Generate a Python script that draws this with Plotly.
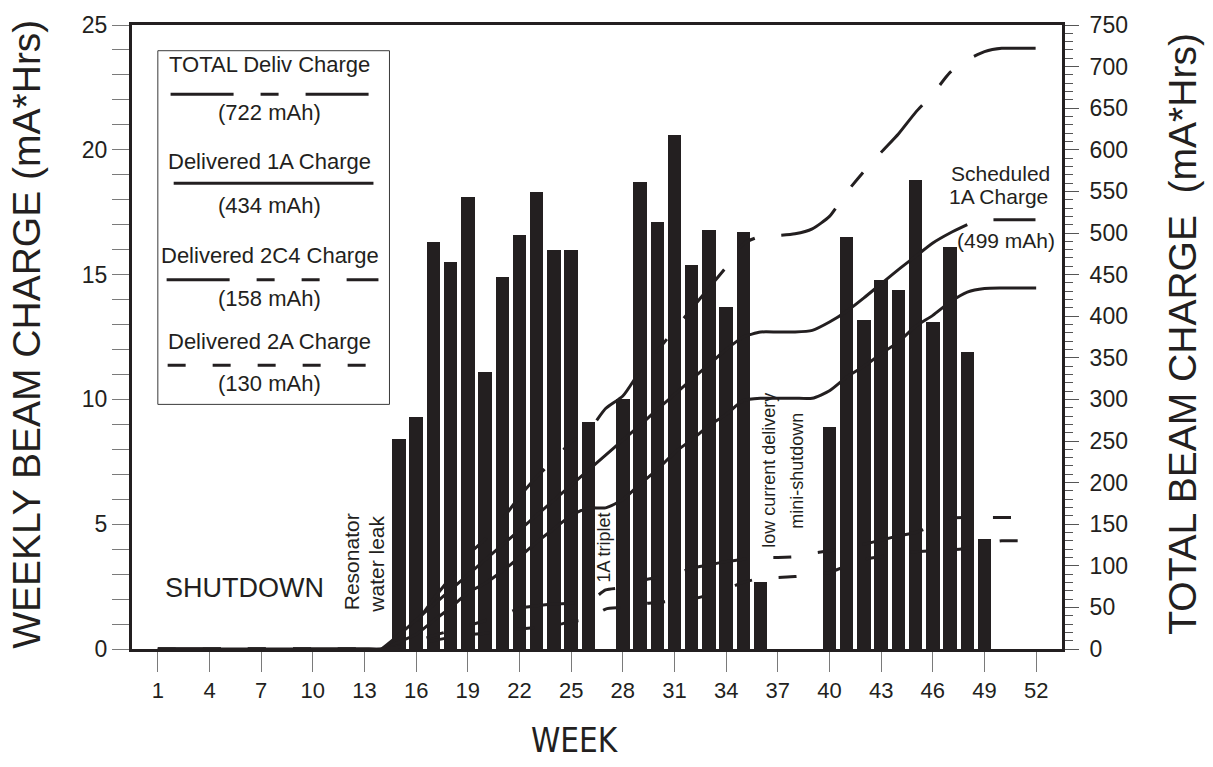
import plotly.graph_objects as go

INK = "#231f20"
TICK = "#7a7a7a"
FONT = "Liberation Sans, Arial, Helvetica, sans-serif"
NARROW = "Liberation Sans Narrow, Arial Narrow, DejaVu Sans Condensed, Liberation Sans, sans-serif"

# ---- data -------------------------------------------------------------
weeks = list(range(1, 53))
tick_weeks = list(range(1, 53, 3))

# weekly delivered 1A beam charge (mA*h), left axis
bar_weeks = [15, 16, 17, 18, 19, 20, 21, 22, 23, 24, 25, 26,
             28, 29, 30, 31, 32, 33, 34, 35, 36,
             40, 41, 42, 43, 44, 45, 46, 47, 48, 49]
weekly_1a = [8.4, 9.3, 16.3, 15.5, 18.1, 11.1, 14.9, 16.6, 18.3, 16.0, 16.0, 9.1,
             10.0, 18.7, 17.1, 20.6, 15.4, 16.8, 13.7, 16.7, 2.7,
             8.9, 16.5, 13.2, 14.8, 14.4, 18.8, 13.1, 16.1, 11.9, 4.4]

# running totals (mA*h), right axis, weeks 1..52
cum_total = [0] * 14 + [14, 32, 60, 86, 113, 132, 156, 183, 207, 227, 249, 262,
                        289, 304, 334, 358, 384, 409, 434, 459, 487, 496,
                        497, 499, 505, 520, 549, 574, 597, 619, 645, 667,
                        693, 708, 718, 722, 722, 722]
cum_1a = [0] * 14 + [8.4, 17.7, 34.1, 49.6, 67.7, 78.8, 93.7, 110.3, 128.5, 144.5, 160.5, 169.6,
                     169.6, 179.6, 198.3, 215.5, 236.1, 251.5, 268.3, 282.0, 298.7, 301.4,
                     301.4, 301.4, 301.4, 310.3, 326.8, 339.9, 354.8, 369.1, 387.9, 401.0,
                     417.1, 429.0, 433.4, 434, 434, 434]
cum_2c4 = [0] * 14 + [4, 9, 16, 22, 28, 34, 40, 49, 52, 54, 55, 56,
                      71, 74, 82, 86, 90, 97, 101, 105, 108, 110,
                      110, 111, 115, 118, 122, 126, 131, 136, 140, 148,
                      157, 158, 158, 158, 158, 158]
cum_2a = [0] * 14 + [2, 5, 10, 14, 17, 19, 22, 24, 26, 28, 33, 36,
                     48, 50, 54, 56, 58, 60, 65, 72, 80, 85,
                     86, 87, 89, 92, 100, 108, 111, 114, 117, 118,
                     119, 121, 127, 130, 130, 130]

# scheduled 1A charge, weeks 14..48
sched_weeks = list(range(14, 49))
sched_1a = [0, 17, 35, 53, 71, 89, 107, 125, 143, 161, 179, 197, 215,
            233, 251, 269, 288, 306, 324, 342, 360, 375, 381,
            381, 381, 383, 393, 406, 422, 439, 456, 472, 488, 500, 510]

# legend key entries: (title, total label, dash)
DASH_TOTAL = "63px,27px,18px,27px"
DASH_2C4 = "63px,27px,18px,27px,18px,27px"
DASH_2A = "18px,27px"
key_rows = [
    ("TOTAL Deliv Charge", "(722 mAh)", DASH_TOTAL),
    ("Delivered 1A Charge", "(434 mAh)", "solid"),
    ("Delivered 2C4 Charge", "(158 mAh)", DASH_2C4),
    ("Delivered 2A Charge", "(130 mAh)", DASH_2A),
]

# ---- figure -----------------------------------------------------------
fig = go.Figure()

fig.add_trace(go.Bar(x=bar_weeks, y=weekly_1a, width=0.78, yaxis="y",
                     marker=dict(color=INK, line=dict(width=0)),
                     showlegend=False, hoverinfo="x+y"))

for series, dash in [(cum_total, DASH_TOTAL), (cum_1a, "solid"),
                     (cum_2c4, DASH_2C4), (cum_2a, DASH_2A)]:
    fig.add_trace(go.Scatter(x=weeks, y=series, mode="lines", yaxis="y2",
                             line=dict(color=INK, width=3, dash=dash,
                                       shape="spline", smoothing=0.6),
                             showlegend=False))

fig.add_trace(go.Scatter(x=sched_weeks, y=sched_1a, mode="lines", yaxis="y2",
                         line=dict(color=INK, width=3, shape="spline", smoothing=0.6),
                         showlegend=False))

shapes = []
annotations = []


def note(x, y, text, size=22, xref="x", yref="y", **kw):
    kw.setdefault("xanchor", "center")
    kw.setdefault("yanchor", "middle")
    kw.setdefault("family", FONT)
    family = kw.pop("family")
    return dict(x=x, y=y, xref=xref, yref=yref, text=text, showarrow=False,
                font=dict(size=size, color=INK, family=family), **kw)


# framed key in the upper left
shapes.append(dict(type="rect", xref="x", yref="y", x0=1.0, x1=14.45, y0=9.8, y1=23.97,
                   line=dict(color="#3a3a3a", width=1), fillcolor="white", layer="above"))
key_title_y = [23.4, 19.55, 15.75, 12.3]
key_line_y = [22.23, 18.66, 14.79, 11.37]
key_value_y = [21.48, 17.76, 14.04, 10.63]
key_line_x = [(1.74, 13.29), (1.92, 13.52), (1.51, 13.81), (1.57, 13.17)]
for (title, value, dash), ty, ly, vy, (lx0, lx1) in zip(key_rows, key_title_y, key_line_y,
                                                         key_value_y, key_line_x):
    annotations.append(note(7.5, ty, title, 22))
    annotations.append(note(7.5, vy, value, 22))
    shapes.append(dict(type="line", xref="x", yref="y", x0=lx0, x1=lx1, y0=ly, y1=ly,
                       line=dict(color=INK, width=3, dash=dash), layer="above"))

# scheduled charge key on the right
shapes.append(dict(type="line", xref="x", yref="y2", x0=49.52, x1=51.96, y0=516, y1=516,
                   line=dict(color=INK, width=3)))
annotations += [
    note(52.93, 571, "Scheduled", 21, yref="y2", xanchor="right"),
    note(52.8, 544, "1A Charge", 21, yref="y2", xanchor="right"),
    note(53.2, 491, "(499 mAh)", 21, yref="y2", xanchor="right"),
]

# event notes
annotations += [
    note(6.04, 2.46, "SHUTDOWN", 27),
    note(12.25, 3.5, "Resonator", 21, textangle=-90),
    note(13.7, 3.4, "water leak", 21, textangle=-90),
    note(26.93, 4.08, "1A triplet", 18, textangle=-90),
    note(36.44, 7.15, "low current delivery", 18, textangle=-90),
    note(38.07, 7.15, "mini-shutdown", 18, textangle=-90),
]

# axis titles
annotations += [
    note(-0.113, 0.505, "WEEKLY BEAM CHARGE (mA*Hrs)", 39, xref="paper", yref="paper",
         textangle=-90),
    note(1.130, 0.505, "TOTAL BEAM CHARGE\u00a0\u00a0(mA*Hrs)", 39, xref="paper", yref="paper",
         textangle=-90),
    note(0.476, -0.147, "WEEK", 33, xref="paper", yref="paper", family=NARROW),
]

fig.update_layout(
    width=1213, height=767,
    margin=dict(l=132, r=151, t=18, b=118),
    paper_bgcolor="white", plot_bgcolor="white",
    font=dict(family=FONT, color=INK),
    showlegend=False,
    bargap=0,
    shapes=shapes,
    annotations=annotations,
    xaxis=dict(range=[-0.5, 53.5], tickvals=tick_weeks, ticks="outside", ticklen=20,
               tickwidth=1, tickcolor=TICK, showline=True, linewidth=3, linecolor=INK,
               mirror=True, showgrid=False, zeroline=False,
               tickfont=dict(size=22, color=INK, family=FONT)),
    yaxis=dict(range=[0, 25], dtick=5, ticks="outside", ticklen=17, tickwidth=1,
               tickcolor=TICK, showline=True, linewidth=3, linecolor=INK,
               showgrid=False, zeroline=False,
               minor=dict(dtick=1, ticks="outside", ticklen=17, tickwidth=1, tickcolor=TICK),
               tickfont=dict(size=23, color=INK, family=FONT)),
    yaxis2=dict(range=[0, 750], dtick=50, overlaying="y", side="right", ticks="outside",
                ticklen=14, tickwidth=1, tickcolor="#555555", showline=True, linewidth=3,
                linecolor=INK, showgrid=False, zeroline=False, ticklabelstandoff=6,
                minor=dict(dtick=10, ticks="outside", ticklen=8, tickwidth=1,
                           tickcolor="#555555"),
                tickfont=dict(size=23, color=INK, family=FONT)),
)

fig.write_html("out.html")
